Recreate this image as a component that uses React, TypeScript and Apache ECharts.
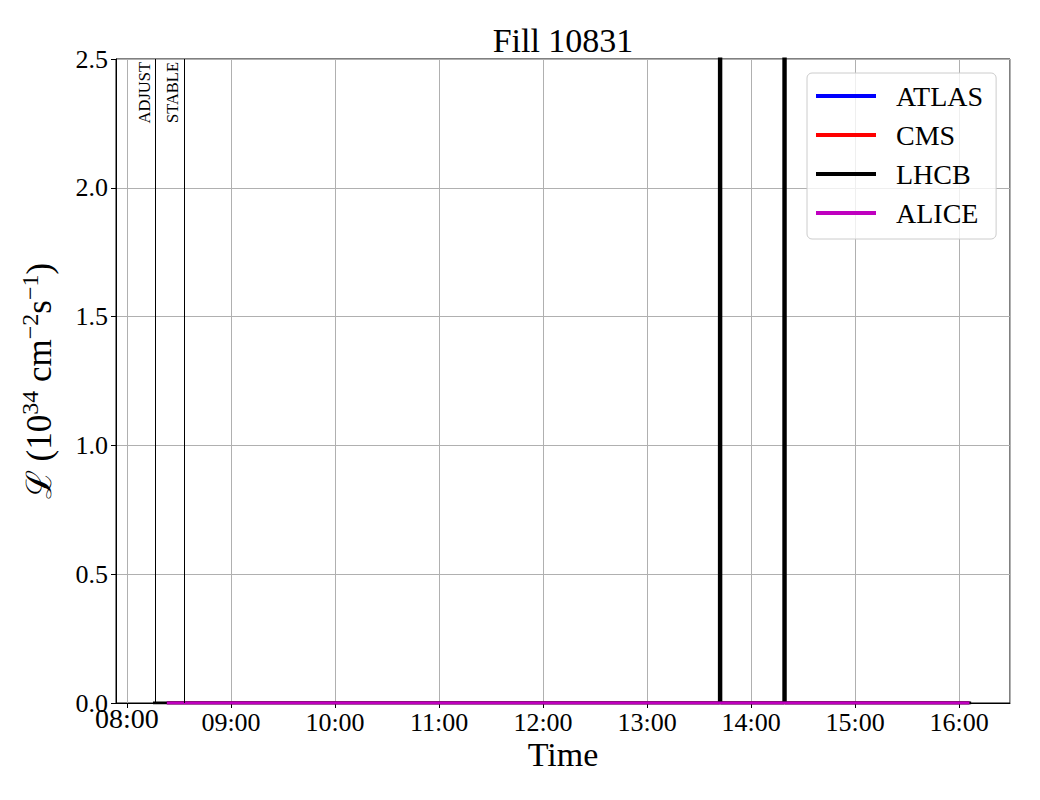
import React, { useEffect, useRef } from "react";
import * as echarts from "echarts";

const DAY = Date.UTC(2025, 5, 25);
const t = (s: string) => {
  const [h, m, sec] = s.split(":").map(Number);
  return DAY + ((h * 60 + m) * 60 + (sec || 0)) * 1000;
};

const xMin = "07:53:40";
const xMax = "16:29:24";
const yTicks = [0, 0.5, 1.0, 1.5, 2.0, 2.5];

const atlasTimes = ["08:23:00", "16:06:00"];
const atlasValues = [0, 0];
const cmsTimes = ["08:23:00", "16:06:00"];
const cmsValues = [0, 0];
const lhcbTimes = [
  "08:15:00", "13:41:45", "13:41:50", "13:42:30", "13:42:35",
  "14:18:55", "14:19:00", "14:19:40", "14:19:45", "16:07:00",
];
const lhcbValues = [0, 0, 40, 40, 0, 0, 40, 40, 0, 0];
const aliceTimes = ["08:23:00", "16:06:00"];
const aliceValues = [0, 0];

const modeNames = ["ADJUST", "STABLE"];
const modeTimes = ["08:16:30", "08:33:00"];

const FONT = "'Liberation Serif', 'Times New Roman', 'DejaVu Serif', serif";

const zip = (ts: string[], vs: number[]) => ts.map((s, i) => [t(s), vs[i]]);

export default function App() {
  const ref = useRef<HTMLDivElement>(null);
  useEffect(() => {
    if (!ref.current) return;
    const chart = echarts.init(ref.current, null, { renderer: "svg" });
    const mk = (name: string, color: string, data: number[][], extra: any = {}) => ({
      name,
      type: "line",
      data,
      symbol: "none",
      lineStyle: { color, width: 3 },
      itemStyle: { color },
      clip: true,
      silent: true,
      ...extra,
    });
    chart.setOption({
      animation: false,
      useUTC: true,
      backgroundColor: "#fff",
      textStyle: { fontFamily: FONT, color: "#000" },
      grid: {
        left: 116,
        right: 30,
        top: 59,
        bottom: 97,
        show: true,
        borderColor: "#000",
        borderWidth: 1,
        backgroundColor: "transparent",
      },
      graphic: [
        {
          type: "text",
          x: 563,
          y: 40,
          z: 10,
          style: {
            text: "Fill 10831",
            align: "center",
            verticalAlign: "middle",
            fontFamily: FONT,
            fontSize: 34,
            fill: "#000",
          },
        },
      ],
      legend: {
        orient: "vertical",
        left: 807,
        top: 73,
        padding: [8, 13, 11, 9],
        itemGap: 9,
        itemWidth: 60,
        itemHeight: 4,
        icon: "rect",
        borderColor: "#cccccc",
        borderWidth: 1,
        borderRadius: 5,
        backgroundColor: "rgba(255,255,255,0.8)",
        textStyle: {
          fontFamily: FONT,
          fontSize: 28,
          color: "#000",
          lineHeight: 30,
          padding: [0, 0, 0, 15],
        },
        data: ["ATLAS", "CMS", "LHCB", "ALICE"],
      },
      xAxis: {
        type: "time",
        min: t(xMin),
        max: t(xMax),
        minInterval: 3600 * 1000,
        maxInterval: 3600 * 1000,
        interval: 3600 * 1000,
        name: "Time",
        nameLocation: "middle",
        nameGap: 34,
        nameMoveOverlap: false,
        nameTextStyle: { fontFamily: FONT, fontSize: 34, color: "#000" },
        axisLine: { show: true, lineStyle: { color: "#000", width: 1 } },
        axisTick: { show: true, length: 5, lineStyle: { color: "#000" } },
        axisLabel: {
          show: true,
          showMinLabel: false,
          showMaxLabel: false,
          margin: 5,
          fontFamily: FONT,
          fontSize: 26,
          color: "#000",
          formatter: (v: number) => {
            const d = new Date(v);
            const hh = String(d.getUTCHours()).padStart(2, "0");
            const mm = String(d.getUTCMinutes()).padStart(2, "0");
            const s = `${hh}:${mm}`;
            return s === "08:00" ? `{b|${s}}` : `{n|${s}}`;
          },
          rich: {
            n: { fontFamily: FONT, fontSize: 26, color: "#000", lineHeight: 28 },
            b: { fontFamily: FONT, fontSize: 28, color: "#000", lineHeight: 20 },
          },
        },
        splitLine: { show: true, lineStyle: { color: "#b0b0b0", width: 1 } },
        minorTick: { show: false },
      },
      yAxis: {
        type: "value",
        min: 0,
        max: 2.5,
        interval: 0.5,
        name: "{a|ℒ (10}{s|34}{a| cm}{s|−2}{a|s}{s|−1}{a|)}",
        nameLocation: "middle",
        nameGap: 56,
        nameMoveOverlap: false,
        nameTextStyle: {
          fontFamily: FONT,
          color: "#000",
          rich: {
            a: { fontFamily: FONT, fontSize: 35, color: "#000", lineHeight: 42, verticalAlign: "middle" },
            s: { fontFamily: FONT, fontSize: 24, color: "#000", lineHeight: 20, verticalAlign: "top" },
          },
        },
        axisLine: { show: true, lineStyle: { color: "#000", width: 1 } },
        axisTick: { show: true, length: 5, lineStyle: { color: "#000" } },
        axisLabel: {
          margin: 8,
          fontFamily: FONT,
          fontSize: 26,
          color: "#000",
          formatter: (v: number) => v.toFixed(1),
          customValues: yTicks,
        },
        splitLine: { show: true, lineStyle: { color: "#b0b0b0", width: 1 } },
      },
      series: [
        mk("ATLAS", "#0000ff", zip(atlasTimes, atlasValues), {
          markLine: {
            silent: true,
            symbol: ["none", "none"],
            lineStyle: { color: "#000", width: 1, type: "solid" },
            label: {
              show: true,
              formatter: "{b}",
              position: "insideEndTop",
              distance: 3,
              fontFamily: FONT,
              fontSize: 16.5,
              color: "#000",
            },
            emphasis: { disabled: true },
            data: modeNames.map((n, i) => ({ name: n, xAxis: t(modeTimes[i]) })),
          },
        }),
        mk("CMS", "#ff0000", zip(cmsTimes, cmsValues)),
        mk("LHCB", "#000000", zip(lhcbTimes, lhcbValues)),
        mk("ALICE", "#bf00bf", zip(aliceTimes, aliceValues)),
      ],
    });
    return () => chart.dispose();
  }, []);
  return <div ref={ref} style={{ width: 1040, height: 800, margin: -8 }} />;
}
